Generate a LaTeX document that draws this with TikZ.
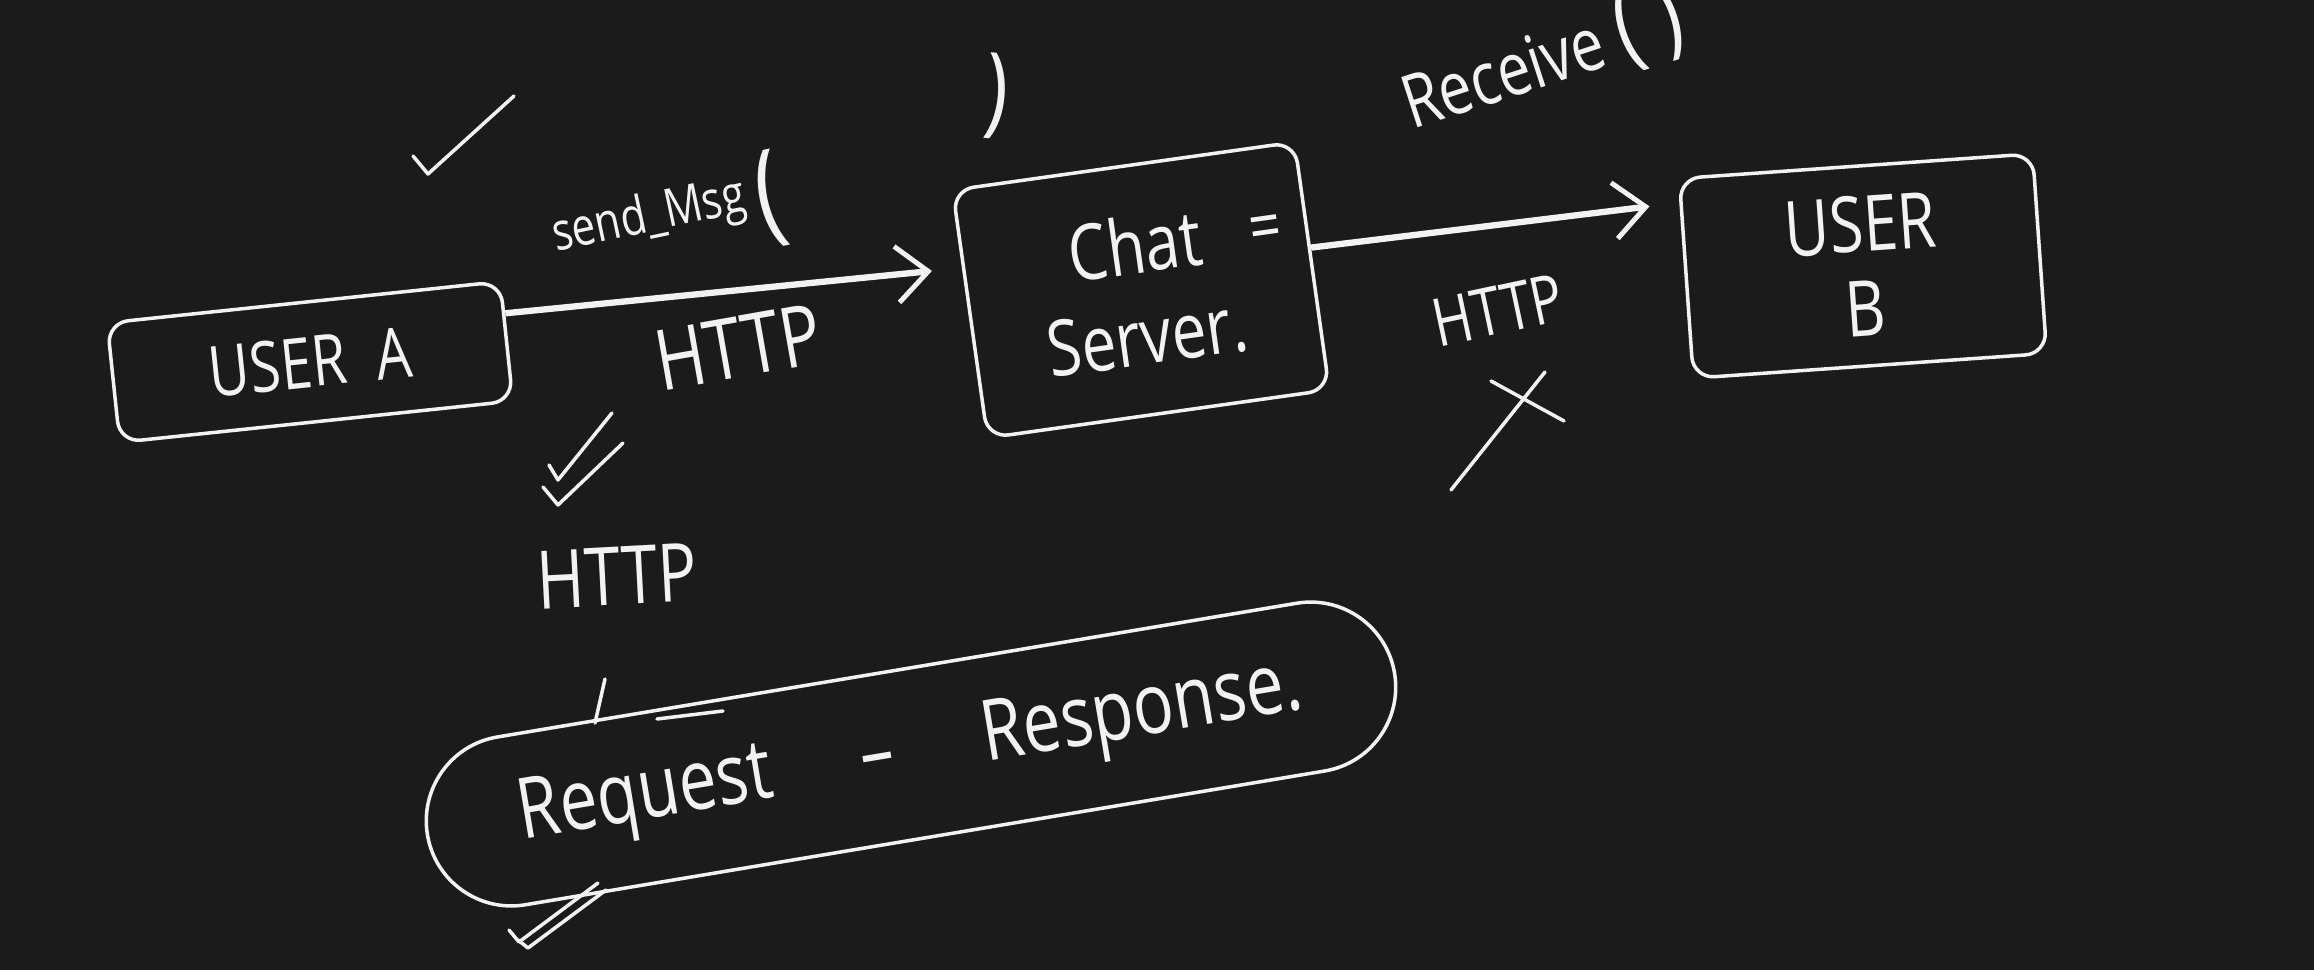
\documentclass[tikz,border=0pt]{standalone}
\usepackage{fontspec}
\setmainfont{Open Sans}[FakeStretch=0.8]
\usetikzlibrary{arrows.meta}
\definecolor{board}{HTML}{1B1B1B}
\definecolor{chalk}{HTML}{F2F2F2}
\begin{document}
\begin{tikzpicture}[x=0.01cm, y=-0.01cm,
        every node/.style={text=chalk},
        box/.style={draw=chalk, line width=1pt, rounded corners=6pt, inner sep=0pt},
        msg/.style={draw=chalk, line width=1.8pt, -{Straight Barb[length=9pt, width=16pt, line width=1.4pt]}},
        tick/.style={draw=chalk, line width=1pt, line cap=round, line join=round}]
        \useasboundingbox (0,0) rectangle (2314,970);
        \fill[board] (0,0) rectangle (2314,970);

        \node[box, rotate=6, minimum width=3.95cm, minimum height=1.2cm, font=\fontsize{20}{24}\selectfont] (usera) at (310,362) {USER\ \ A};
        \node[box, rotate=8, minimum width=3.45cm, minimum height=2.5cm, align=center, font=\fontsize{22}{26}\selectfont] (chat) at (1141,290) {Chat\\Server.};
        \node[rotate=8, font=\fontsize{20}{24}\selectfont] (eq) at (1266,233) {=};
        \node[box, rotate=4, minimum width=3.54cm, minimum height=2cm, align=center, font=\fontsize{22}{24}\selectfont] (userb) at (1863,266) {USER\\B};
        \node[box, rotate=9.5, minimum width=9.8cm, minimum height=1.7cm, rounded corners=0.85cm, font=\fontsize{24}{28}\selectfont] (reqres) at (911,754) {Request\hspace{0.9cm}--\hspace{0.9cm}Response.};

        \draw [msg, shorten >=0.3cm](usera.8) -- (chat.165);
        \draw [msg, shorten >=0.3cm](chat.6) -- (userb.157);

        \node[rotate=12, font=\fontsize{15}{18}\selectfont] (send) at (649,218) {send\_Msg};
        \node[rotate=12, font=\fontsize{32}{34}\selectfont] (lpar) at (770,199) {(};
        \node[rotate=-5, font=\fontsize{28}{30}\selectfont] (rpar) at (996,96) {)};
        \node[rotate=10, font=\fontsize{24}{28}\selectfont] (http1) at (738,347) {HTTP};
        \node[rotate=18, font=\fontsize{21}{24}\selectfont] (recv) at (1542,59) {Receive {\fontsize{28}{30}\selectfont( )}};
        \node[rotate=12, font=\fontsize{19}{22}\selectfont] (http2) at (1498,310) {HTTP};
        \node[rotate=3, font=\fontsize{23}{26}\selectfont] (http3) at (617,576) {HTTP};

        \draw [tick](413,156) -- (428,174) -- (514,96);
        \draw [tick](549,465) -- (558,480) -- (612,413);
        \draw [tick](543,487) -- (558,505) -- (623,443);
        \draw [tick](1451,490) -- (1545,372);
        \draw [tick](1491,381) -- (1564,421);
        \draw [tick](595,723) -- (605,679);
        \draw [tick](657,719) -- (723,711);
        \draw [tick](509,930) -- (519,942) -- (598,883);
        \draw [tick](518,940) -- (528,948) -- (606,890);
\end{tikzpicture}
\end{document}
